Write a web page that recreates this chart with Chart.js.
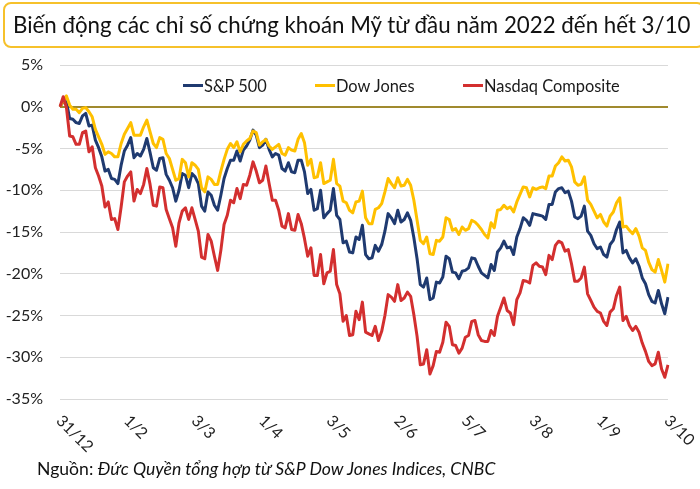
<!DOCTYPE html>
<html>
<head>
<meta charset="utf-8">
<script src="https://cdn.jsdelivr.net/npm/chart.js"></script>
<style>
  body { margin: 0; background: #fff; font-family: Lato, "Open Sans", sans-serif; }
  #wrap { position: relative; width: 700px; height: 489px; overflow: hidden; }
  #title {
    position: absolute; left: 3px; top: 2px; width: 690px; height: 42px;
    border: 2px solid #F6C12B; border-radius: 8px;
    font-size: 22.3px; line-height: 42px; padding-left: 8px; color: #111;
    white-space: nowrap;
  }
  #legend { position: absolute; left: 0; top: 76px; width: 700px; height: 22px; }
  .item { position: absolute; display: flex; align-items: center; font-size: 16.4px; color: #1a1a1a; white-space: nowrap; }
  .item span.mark { display: inline-block; width: 20px; height: 3px; margin-right: 1px; }
  #source { position: absolute; left: 37px; top: 458px; font-size: 17.6px; color: #111; white-space: nowrap; }
  canvas { position: absolute; left: 0; top: 0; }
</style>
</head>
<body>
<div id="wrap">
  <canvas id="chart" width="700" height="489"></canvas>
  <div id="title">Biến động các chỉ số chứng khoán Mỹ từ đầu năm 2022 đến hết 3/10</div>
  <div id="legend"></div>
  <div id="source">Nguồn: <i>Đức Quyền tổng hợp từ S&amp;P Dow Jones Indices, CNBC</i></div>
</div>
<script>
// ngày giao dịch (31/12/2021 -> 3/10/2022)
const dates = [
  '31/12',
  '3/1','4/1','5/1','6/1','7/1','10/1','11/1','12/1','13/1','14/1','18/1','19/1','20/1','21/1','24/1','25/1','26/1','27/1','28/1','31/1',
  '1/2','2/2','3/2','4/2','7/2','8/2','9/2','10/2','11/2','14/2','15/2','16/2','17/2','18/2','22/2','23/2','24/2','25/2','28/2',
  '1/3','2/3','3/3','4/3','7/3','8/3','9/3','10/3','11/3','14/3','15/3','16/3','17/3','18/3','21/3','22/3','23/3','24/3','25/3','28/3','29/3','30/3','31/3',
  '1/4','4/4','5/4','6/4','7/4','8/4','11/4','12/4','13/4','14/4','18/4','19/4','20/4','21/4','22/4','25/4','26/4','27/4','28/4','29/4',
  '2/5','3/5','4/5','5/5','6/5','9/5','10/5','11/5','12/5','13/5','16/5','17/5','18/5','19/5','20/5','23/5','24/5','25/5','26/5','27/5','31/5',
  '1/6','2/6','3/6','6/6','7/6','8/6','9/6','10/6','13/6','14/6','15/6','16/6','17/6','21/6','22/6','23/6','24/6','27/6','28/6','29/6','30/6',
  '1/7','5/7','6/7','7/7','8/7','11/7','12/7','13/7','14/7','15/7','18/7','19/7','20/7','21/7','22/7','25/7','26/7','27/7','28/7','29/7',
  '1/8','2/8','3/8','4/8','5/8','8/8','9/8','10/8','11/8','12/8','15/8','16/8','17/8','18/8','19/8','22/8','23/8','24/8','25/8','26/8','29/8','30/8','31/8',
  '1/9','2/9','6/9','7/9','8/9','9/9','12/9','13/9','14/9','15/9','16/9','19/9','20/9','21/9','22/9','23/9','26/9','27/9','28/9','29/9','30/9',
  '3/10'
];

// nhãn hiển thị trên trục ngang
const tickLabels = ['31/12','1/2','3/3','1/4','3/5','2/6','5/7','3/8','1/9','3/10'];

const seriesNames = ['S&P 500', 'Dow Jones', 'Nasdaq Composite'];
const seriesColors = ['#1F3A70', '#FFC000', '#D32F2F'];

// % thay đổi so với 31/12/2021
const sp500 = [
  0,
  0.6,0.6,-1.4,-1.5,-1.9,-2.0,-1.1,-0.8,-2.3,-2.2,-4.0,-4.9,-6.0,-7.7,-7.5,-8.6,-8.7,-9.2,-7.0,-5.3,
  -4.6,-3.7,-6.1,-5.6,-5.9,-5.1,-3.8,-5.5,-7.3,-7.6,-6.2,-6.1,-8.1,-8.8,-9.7,-11.3,-10.0,-8.0,-8.2,
  -9.7,-8.0,-8.4,-9.2,-11.9,-12.5,-10.2,-10.6,-11.8,-12.4,-10.6,-8.6,-7.4,-6.4,-6.4,-5.3,-6.5,-5.2,-4.7,-4.0,-2.8,-3.4,-4.9,
  -4.6,-3.9,-5.1,-6.0,-5.6,-5.8,-7.4,-7.7,-6.7,-7.8,-7.9,-6.4,-6.4,-7.8,-10.4,-9.9,-12.4,-12.2,-10.0,-13.3,
  -12.8,-12.4,-9.8,-13.0,-13.5,-16.3,-16.1,-17.4,-17.5,-15.6,-15.9,-14.2,-17.7,-18.2,-18.1,-16.6,-17.3,-16.5,-14.9,-12.8,-13.3,
  -14.0,-12.4,-13.8,-13.5,-12.7,-13.6,-15.7,-18.2,-21.3,-21.6,-20.5,-23.1,-22.9,-21.0,-21.1,-20.4,-17.9,-18.2,-19.8,-19.9,-20.6,
  -19.7,-19.6,-19.3,-18.1,-18.2,-19.1,-19.9,-20.2,-20.5,-18.9,-19.6,-17.4,-16.9,-16.1,-16.9,-16.8,-17.7,-15.6,-14.6,-13.3,
  -13.6,-14.2,-12.8,-12.9,-13.0,-13.1,-13.5,-11.7,-11.7,-10.2,-9.8,-9.7,-10.3,-10.1,-11.3,-13.2,-13.4,-13.1,-11.9,-14.9,-15.4,-16.4,-17.0,
  -16.8,-17.7,-18.0,-16.5,-16.0,-14.7,-13.8,-17.5,-17.2,-18.1,-18.7,-18.2,-19.1,-20.5,-21.2,-22.5,-23.3,-23.5,-22.0,-23.6,-24.8,
  -22.8
];

const dowJones = [
  0,
  0.7,1.3,0.2,-0.3,-0.3,-0.7,-0.2,-0.1,-0.6,-1.2,-2.7,-3.6,-4.5,-5.7,-5.4,-5.6,-6.0,-6.0,-4.4,-3.3,
  -2.6,-1.9,-3.4,-3.4,-3.4,-2.4,-1.6,-3.0,-4.4,-4.9,-3.7,-3.9,-5.6,-6.2,-7.5,-8.8,-8.6,-6.3,-6.7,
  -8.4,-6.7,-7.0,-7.5,-9.7,-10.2,-8.4,-8.7,-9.3,-9.3,-7.7,-6.3,-5.1,-4.4,-4.9,-4.2,-5.4,-4.5,-4.1,-3.8,-2.9,-3.1,-4.6,
  -4.2,-3.9,-4.7,-5.1,-4.8,-4.5,-5.6,-5.8,-4.9,-5.2,-5.3,-3.9,-3.2,-4.3,-7.0,-6.3,-8.5,-8.4,-6.7,-9.2,
  -9.0,-8.8,-6.3,-9.2,-9.5,-11.3,-11.5,-12.4,-12.7,-11.4,-11.3,-10.1,-13.3,-14.0,-14.0,-12.3,-12.1,-11.6,-10.2,-8.6,-9.2,
  -9.7,-8.5,-9.5,-9.4,-8.7,-9.4,-11.2,-13.6,-16.0,-16.4,-15.6,-17.6,-17.7,-16.0,-16.1,-15.6,-13.3,-13.5,-14.8,-14.6,-15.3,
  -14.4,-14.8,-14.6,-13.6,-13.8,-14.2,-14.7,-15.3,-15.7,-13.9,-14.5,-12.4,-12.3,-11.8,-12.2,-12.0,-12.6,-11.4,-10.5,-9.6,
  -9.7,-10.8,-9.7,-9.9,-9.7,-9.6,-9.8,-8.3,-8.3,-7.1,-6.7,-6.0,-6.5,-6.4,-7.2,-9.0,-9.4,-9.3,-8.4,-11.2,-11.7,-12.5,-13.3,
  -12.9,-13.8,-14.3,-13.1,-12.6,-11.5,-10.9,-14.4,-14.3,-14.8,-15.2,-14.6,-15.5,-16.9,-17.2,-18.6,-19.5,-19.8,-18.3,-19.6,-21.0,
  -18.8
];

const nasdaq = [
  0,
  1.2,-0.1,-3.5,-3.6,-4.5,-4.5,-3.1,-2.9,-5.4,-4.8,-7.3,-8.3,-9.5,-12.0,-11.4,-13.5,-13.4,-14.7,-12.0,-9.0,
  -8.3,-7.8,-11.3,-9.9,-10.4,-9.3,-7.4,-9.3,-11.8,-11.9,-9.6,-9.7,-12.3,-13.4,-14.5,-16.7,-13.9,-12.5,-12.1,
  -13.5,-12.1,-13.5,-14.9,-18.0,-18.2,-15.3,-16.1,-17.9,-19.6,-17.2,-14.1,-13.0,-11.2,-11.5,-9.8,-11.0,-9.3,-9.4,-8.2,-6.6,-7.7,-9.1,
  -8.8,-7.1,-9.2,-11.2,-11.2,-12.4,-14.3,-14.5,-12.8,-14.7,-14.8,-12.9,-14.0,-15.8,-17.9,-16.9,-20.2,-20.2,-17.7,-21.2,
  -19.9,-19.7,-17.1,-21.3,-22.4,-25.7,-25.0,-27.4,-27.3,-24.5,-25.5,-23.4,-27.0,-27.2,-27.4,-26.3,-28.0,-26.9,-25.0,-22.5,-22.8,
  -23.3,-21.3,-23.2,-22.9,-22.2,-22.7,-24.9,-27.5,-30.9,-30.8,-29.1,-32.0,-31.0,-29.3,-29.4,-28.2,-25.8,-26.3,-28.5,-28.6,-29.5,
  -28.9,-27.6,-27.4,-25.7,-25.6,-27.3,-28.0,-28.1,-28.1,-26.8,-27.4,-25.1,-24.0,-22.9,-24.4,-24.7,-26.1,-23.1,-22.3,-20.8,
  -20.9,-21.1,-19.0,-18.7,-19.1,-19.2,-20.1,-17.8,-18.3,-16.6,-16.1,-16.3,-17.3,-17.1,-18.8,-20.9,-20.9,-20.5,-19.2,-22.4,-23.2,-24.0,-24.5,
  -24.7,-25.7,-26.2,-24.6,-24.2,-22.6,-21.6,-25.6,-25.1,-26.2,-26.8,-26.3,-27.0,-28.3,-29.3,-30.5,-31.0,-30.8,-29.4,-31.4,-32.4,
  -30.9
];

// vẽ nhãn trục ngang nghiêng 45 độ (xuống phải)
const nhanTrucX = {
  id: 'nhanTrucX',
  afterDraw(chart) {
    const ctx = chart.ctx;
    const xs = chart.scales.x;
    const bottom = chart.chartArea.bottom;
    ctx.save();
    ctx.font = '16px Lato';
    ctx.fillStyle = '#222';
    ctx.textAlign = 'left';
    ctx.textBaseline = 'middle';
    tickLabels.forEach(lbl => {
      const i = dates.indexOf(lbl);
      const x = xs.getPixelForValue(i);
      ctx.save();
      ctx.translate(x - 1, bottom + 19);
      ctx.rotate(Math.PI / 4);
      ctx.fillText(lbl, 0, 0);
      ctx.restore();
    });
    ctx.restore();
  }
};

const duLieu = [sp500, dowJones, nasdaq];

const chart = new Chart(document.getElementById('chart'), {
  type: 'line',
  data: {
    labels: dates,
    datasets: seriesNames.map((name, k) => ({
      label: name,
      data: duLieu[k],
      borderColor: seriesColors[k],
      backgroundColor: seriesColors[k],
      borderWidth: 3,
      pointRadius: 0,
      tension: 0,
      borderJoinStyle: 'round',
      order: 3 - k
    }))
  },
  options: {
    responsive: false,
    animation: false,
    layout: { padding: { top: 65, right: 32, left: 0, bottom: 0 } },
    plugins: { legend: { display: false }, tooltip: { enabled: false } },
    scales: {
      x: {
        offset: false,
        grid: { display: false },
        border: { display: false },
        ticks: { display: false },
        afterFit: s => { s.height = 90; }
      },
      y: {
        min: -35,
        max: 5,
        border: { display: false },
        grid: {
          drawTicks: false,
          color: c => c.tick && c.tick.value === 0 ? '#A08A2E' : '#D9D9D9',
          lineWidth: c => c.tick && c.tick.value === 0 ? 2 : 1
        },
        ticks: {
          stepSize: 5,
          padding: 17,
          color: '#222',
          font: { family: 'Lato', size: 16 },
          callback: v => v + '%'
        },
        afterFit: s => { s.width = 60; }
      }
    }
  },
  plugins: [nhanTrucX]
});

// chú thích
const legendLeft = [183, 315, 463];
const legend = document.getElementById('legend');
chart.data.datasets.forEach((ds, k) => {
  const el = document.createElement('div');
  el.className = 'item';
  el.style.left = legendLeft[k] + 'px';
  el.innerHTML = '<span class="mark" style="background:' + ds.borderColor + '"></span>' + ds.label.replace('&', '&amp;');
  legend.appendChild(el);
});
</script>
</body>
</html>
